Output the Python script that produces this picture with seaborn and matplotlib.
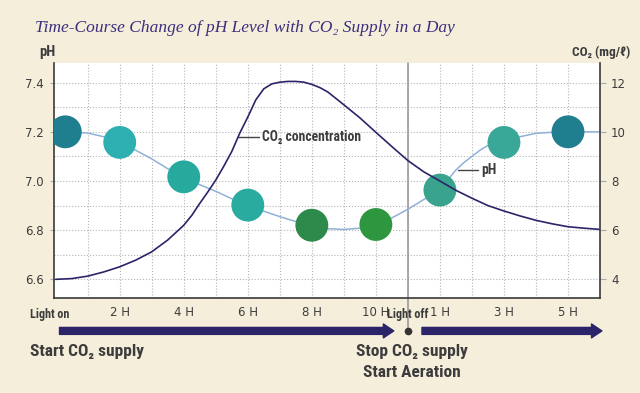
import matplotlib.pyplot as plt
import numpy as np
import seaborn as sns

# CO2 concentration curve (mg/l)
co2_hours = [0, 0.5, 1, 1.5, 2, 2.5, 3, 3.5, 4, 4.25, 4.5, 4.75, 5, 5.25, 5.5, 5.75,
             6, 6.25, 6.5, 6.75, 7, 7.25, 7.5, 7.75, 8, 8.25, 8.5, 9, 9.5,
             10, 10.5, 11, 11.5, 12, 12.5, 13, 13.5, 14, 14.5, 15, 15.5, 16, 16.5, 17]
co2_values = [4.0, 4.03, 4.13, 4.3, 4.51, 4.78, 5.12, 5.6, 6.2, 6.6, 7.09, 7.55, 8.04,
              8.6, 9.2, 9.95, 10.6, 11.3, 11.75, 11.95, 12.02, 12.05, 12.05, 12.02,
              11.93, 11.8, 11.62, 11.1, 10.57, 9.98, 9.4, 8.83, 8.37, 8.0, 7.62, 7.3,
              7.0, 6.78, 6.58, 6.4, 6.26, 6.14, 6.08, 6.03]

# pH line
ph_hours = [0.3, 0.5, 1, 1.5, 2, 2.5, 3, 3.5, 4, 4.5, 5, 5.5, 6, 6.5, 7, 7.5, 8, 8.5,
            9, 9.5, 10, 10.5, 11, 11.5, 11.75, 12, 12.25, 12.5, 12.75, 13, 13.25,
            13.5, 13.75, 14, 14.25, 14.5, 15, 15.5, 16, 17]
ph_values = [7.20, 7.199, 7.195, 7.18, 7.157, 7.125, 7.09, 7.05, 7.017, 6.985, 6.958,
             6.928, 6.902, 6.877, 6.855, 6.835, 6.82, 6.806, 6.803, 6.808, 6.823,
             6.85, 6.885, 6.925, 6.944, 6.963, 7.005, 7.045, 7.075, 7.10, 7.125,
             7.145, 7.155, 7.16, 7.172, 7.18, 7.194, 7.198, 7.20, 7.20]

# pH measurement dots
dot_hours = [0.3, 2, 4, 6, 8, 10, 12, 14, 16]
dot_ph = [7.20, 7.157, 7.017, 6.902, 6.82, 6.823, 6.963, 7.157, 7.20]
dot_colors = ["#1f7f8f", "#2eb0b0", "#27a99d", "#2aaba0", "#2e8a4a",
              "#2f9640", "#3aa38e", "#3aa898", "#1f7f8f"]

tick_hours = [2, 4, 6, 8, 10, 12, 14, 16]
tick_labels = ["2 H", "4 H", "6 H", "8 H", "10 H", "1 H", "3 H", "5 H"]
light_hours = [-0.19, 11.0]
light_labels = ["Light on", "Light off"]
ph_ticks = [6.6, 6.8, 7.0, 7.2, 7.4]
co2_ticks = [4, 6, 8, 10, 12]

BG = "#f5eedb"
NAVY = "#2b2468"
TXT = "#3c3c3c"
NARROW = ["Roboto Condensed", "Liberation Sans Narrow", "Roboto", "DejaVu Sans"]

sns.set_style("white")
plt.rcParams["font.family"] = ["DejaVu Sans"]

fig = plt.figure(figsize=(6.4, 3.93), dpi=100, facecolor=BG)
ax = fig.add_axes([0.084, 0.2417, 0.8535, 0.598])
ax.set_facecolor("white")
ax.set_xlim(-0.06, 17.0)
ax.set_ylim(6.524, 7.48)

# dotted grid every hour / every 0.1 pH
ax.set_xticks(tick_hours)
ax.set_xticks(np.arange(1, 17), minor=True)
ax.set_yticks(ph_ticks)
ax.set_yticks([6.7, 6.9, 7.1, 7.3], minor=True)
ax.grid(which="both", ls=":", color="#b5b5b5", lw=0.8)
ax.set_axisbelow(True)

sns.lineplot(x=ph_hours, y=ph_values, ax=ax, color="#8fb1d8", lw=1.1, zorder=2)
sns.scatterplot(x=dot_hours, y=dot_ph, hue=[str(i) for i in range(len(dot_hours))],
                palette=dot_colors, s=560, linewidth=0, legend=False, ax=ax, zorder=3)

ax.set_xticklabels(tick_labels)
ax.tick_params(axis="x", which="both", length=0, pad=6, labelsize=8.5, labelcolor=TXT)
ax.tick_params(axis="y", which="major", length=3, color="#aaaaaa", pad=4,
               labelsize=8.5, labelcolor=TXT, left=True)
ax.tick_params(axis="y", which="minor", length=0)
ax.set_yticklabels([f"{v:.1f}" for v in ph_ticks])
ax.set_xlabel("")
ax.set_ylabel("")

ax2 = ax.twinx()
ax2.set_ylim(3.24, 12.8)
sns.lineplot(x=co2_hours, y=co2_values, ax=ax2, color=NAVY, lw=1.2)
ax2.set_yticks(co2_ticks)
ax2.tick_params(axis="y", length=4, color="#aaaaaa", pad=4, labelsize=8.5,
                labelcolor=TXT, right=True)
ax2.set_ylabel("")
ax2.grid(False)

for a in (ax, ax2):
    for side in ("top", "left", "right", "bottom"):
        a.spines[side].set_visible(False)
for side in ("left", "bottom"):
    ax.spines[side].set_visible(True)
    ax.spines[side].set_color("#3a3a3a")
    ax.spines[side].set_linewidth(1.2)
ax2.spines["right"].set_visible(True)
ax2.spines["right"].set_color("#3a3a3a")
ax2.spines["right"].set_linewidth(1.2)

# light off marker line and the timeline arrows under the axis
tr = ax.get_xaxis_transform()
ax.plot([11, 11], [-0.14, 1], transform=tr, clip_on=False, color="#9a9a9a", lw=1.2, zorder=1)
ax.plot([11], [-0.14], "o", ms=4.5, color="#333333", transform=tr, clip_on=False)
for h, lab in zip(light_hours, light_labels):
    ax.text(h, -0.07, lab, transform=tr, ha="center", va="center", family=NARROW,
            fontsize=8.7, fontweight="bold", color=TXT)
arrow_style = "simple,head_length=0.75,head_width=1.0,tail_width=0.5"
ax.annotate("", xy=(10.56, -0.14), xytext=(0.12, -0.14), xycoords=tr, textcoords=tr,
            arrowprops=dict(arrowstyle=arrow_style, color=NAVY, shrinkA=0, shrinkB=0,
                            mutation_scale=10), annotation_clip=False)
ax.annotate("", xy=(17.06, -0.14), xytext=(11.44, -0.14), xycoords=tr, textcoords=tr,
            arrowprops=dict(arrowstyle=arrow_style, color=NAVY, shrinkA=0, shrinkB=0,
                            mutation_scale=10), annotation_clip=False)

ax.text(-0.81, -0.2255, "Start CO₂ supply", transform=tr, ha="left", va="center",
        family=NARROW, fontsize=12.5, fontweight="bold", color=TXT)
ax.text(11.12, -0.2255, "Stop CO₂ supply", transform=tr, ha="center", va="center",
        family=NARROW, fontsize=12.5, fontweight="bold", color=TXT)
ax.text(11.12, -0.315, "Start Aeration", transform=tr, ha="center", va="center",
        family=NARROW, fontsize=12.5, fontweight="bold", color=TXT)

# curve labels with leader lines
ax.plot([5.69, 6.34], [7.18, 7.18], color="#444444", lw=1.0, zorder=4)
ax.text(6.44, 7.18, "CO₂ concentration", ha="left", va="center", family=NARROW,
        fontsize=9.8, fontweight="bold", color=TXT, zorder=4)
ax.plot([12.56, 13.19], [7.045, 7.045], color="#444444", lw=1.0, zorder=4)
ax.text(13.3, 7.045, "pH", ha="left", va="center", family=NARROW,
        fontsize=10, fontweight="bold", color=TXT, zorder=4)

fig.text(47 / 640, 1 - 52 / 393, "pH", ha="center", va="center", family=NARROW,
         fontsize=10.5, fontweight="bold", color=TXT)
fig.text(601 / 640, 1 - 52 / 393, "CO₂ (mg/ℓ)", ha="center", va="center", family=NARROW,
         fontsize=9.5, fontweight="bold", color=TXT)
fig.text(35 / 640, 1 - 28 / 393, "Time-Course Change of pH Level with CO₂ Supply in a Day",
         ha="left", va="center", family=["Liberation Serif", "DejaVu Serif"],
         style="italic", fontsize=12.5, color="#3b2f7d")

fig.savefig("out.png", dpi=100, facecolor=BG)
plt.close(fig)
